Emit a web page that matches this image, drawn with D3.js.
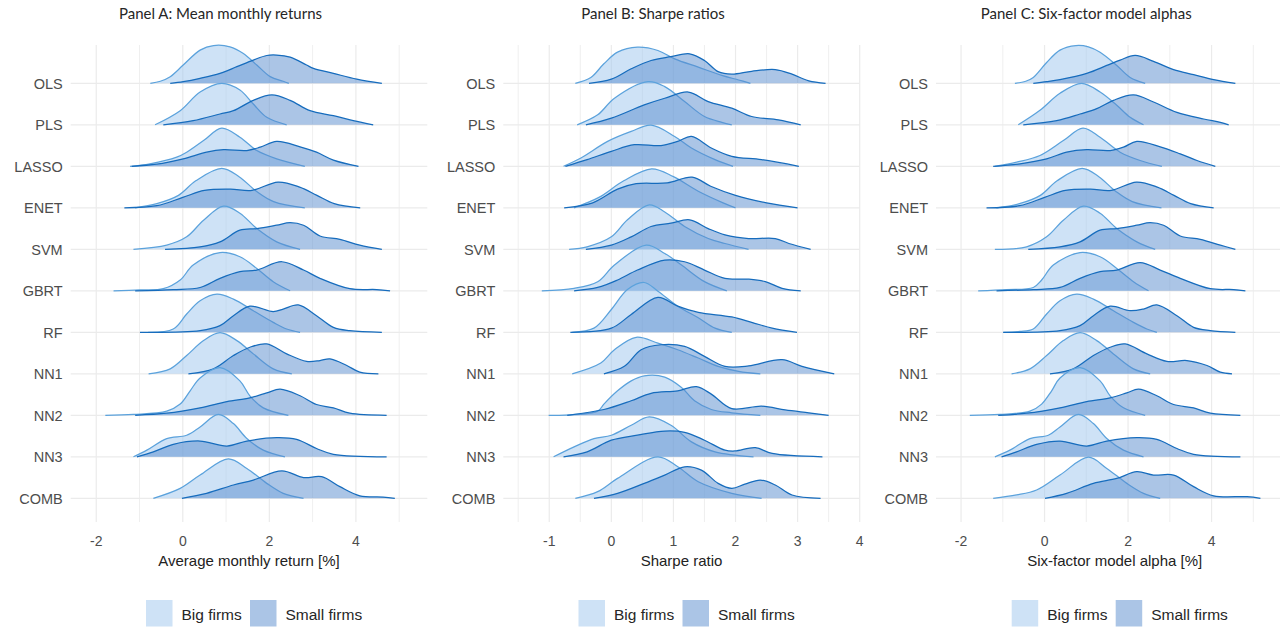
<!DOCTYPE html>
<html>
<head>
<meta charset="utf-8">
<script src="https://cdn.jsdelivr.net/npm/d3@7"></script>
<style>
  html, body { margin: 0; padding: 0; background: #ffffff; }
  svg { display: block; }
</style>
</head>
<body>
<svg id="chart" width="1280" height="628"></svg>
<script>
// Forecasting models, one ridge per model (top to bottom)
const models = ["OLS", "PLS", "LASSO", "ENET", "SVM", "GBRT", "RF", "NN1", "NN2", "NN3", "COMB"];
const groups = ["Big firms", "Small firms"];

const panelTitles = ["Panel A: Mean monthly returns", "Panel B: Sharpe ratios", "Panel C: Six-factor model alphas"];
const axisTitles = ["Average monthly return [%]", "Sharpe ratio", "Six-factor model alpha [%]"];

const ticksA = [-2, 0, 2, 4];
const minorA = [-1, 1, 3, 5];
const ticksB = [-1, 0, 1, 2, 3, 4];
const minorB = [-1.5, -0.5, 0.5, 1.5, 2.5, 3.5];
const ticksC = [-2, 0, 2, 4];
const minorC = [-1, 1, 3, 5];

const domainA = [-2.59, 5.65];
const domainB = [-1.74, 4.0];
const domainC = [-2.6, 5.96];

// Density ridges: [value, relative density] pairs for each model
const returnsBig = [
  [[-0.75,0],[-0.52,0.05],[-0.29,0.16],[0.01,0.44],[0.40,0.8],[0.71,0.91],[1.09,0.88],[1.40,0.72],[1.71,0.44],[2.02,0.16],[2.32,0.05],[2.45,0]],
  [[-0.64,0],[-0.06,0.34],[0.40,0.79],[0.90,1.0],[1.32,0.84],[1.63,0.5],[1.94,0.18],[2.40,0]],
  [[-1.22,0],[-0.76,0.06],[-0.14,0.22],[0.09,0.34],[0.48,0.62],[0.90,0.92],[1.32,0.7],[1.71,0.38],[2.17,0.18],[2.82,0]],
  [[-1.1,0],[-0.6,0.1],[-0.1,0.3],[0.3,0.65],[0.9,0.95],[1.3,0.75],[1.7,0.4],[2.1,0.15],[2.82,0]],
  [[-1.14,0],[-0.37,0.1],[0.09,0.3],[0.48,0.7],[0.94,1.04],[1.32,0.87],[1.71,0.5],[2.17,0.18],[2.71,0]],
  [[-1.6,0],[-0.99,0.02],[-0.45,0.05],[-0.06,0.26],[0.24,0.62],[0.86,0.92],[1.32,0.82],[1.71,0.54],[2.09,0.22],[2.48,0]],
  [[-0.8,0],[-0.22,0.08],[0.09,0.44],[0.4,0.76],[0.79,0.92],[1.17,0.8],[1.63,0.52],[2.09,0.24],[2.40,0.08],[2.71,0]],
  [[-0.79,0],[-0.29,0.12],[0.09,0.44],[0.48,0.8],[0.86,0.99],[1.25,0.8],[1.63,0.48],[2.09,0.12],[2.52,0]],
  [[-1.79,0],[-1.14,0.02],[-0.37,0.1],[-0.06,0.27],[0.17,0.59],[0.4,0.9],[0.86,1.15],[1.32,0.83],[1.55,0.47],[1.86,0.18],[2.44,0]],
  [[-1.14,0],[-0.83,0.16],[-0.37,0.44],[0.09,0.52],[0.4,0.72],[0.82,1.02],[1.17,0.8],[1.48,0.44],[1.86,0.16],[2.36,0]],
  [[-0.68,0],[-0.06,0.24],[0.4,0.56],[1.05,0.95],[1.48,0.72],[1.94,0.36],[2.32,0.12],[2.79,0]]
];
const returnsSmall = [
  [[-0.29,0],[0.01,0.04],[0.4,0.12],[0.86,0.24],[1.25,0.4],[1.63,0.56],[1.94,0.67],[2.17,0.68],[2.48,0.63],[2.86,0.44],[3.02,0.36],[3.48,0.24],[4.02,0.1],[4.6,0]],
  [[-0.45,0],[0.24,0.1],[0.86,0.26],[1.17,0.34],[1.63,0.59],[2.06,0.72],[2.48,0.59],[2.94,0.34],[3.48,0.22],[3.94,0.1],[4.40,0]],
  [[-1.18,0],[-0.6,0.05],[0.01,0.18],[0.55,0.34],[0.94,0.4],[1.48,0.38],[1.79,0.46],[2.17,0.6],[2.71,0.47],[3.09,0.34],[3.48,0.15],[4.06,0]],
  [[-1.35,0],[-0.6,0.05],[0,0.25],[0.5,0.42],[1.1,0.45],[1.6,0.42],[2.2,0.62],[2.7,0.5],[3.1,0.3],[3.5,0.1],[4.1,0]],
  [[-0.41,0],[0.4,0.06],[0.86,0.18],[1.32,0.46],[1.71,0.5],[2.17,0.58],[2.48,0.64],[2.79,0.58],[3.17,0.32],[3.63,0.24],[4.09,0.1],[4.6,0]],
  [[-1.1,0],[-0.22,0.03],[0.4,0.08],[0.86,0.3],[1.32,0.46],[1.71,0.5],[2.29,0.7],[2.79,0.5],[3.17,0.3],[3.86,0.05],[4.48,0.03],[4.79,0]],
  [[-0.99,0],[0.4,0.04],[0.86,0.16],[1.17,0.4],[1.55,0.63],[2.09,0.5],[2.32,0.56],[2.67,0.66],[3.09,0.4],[3.48,0.12],[3.86,0.04],[4.6,0]],
  [[0.13,0],[0.71,0.12],[1.17,0.44],[1.55,0.64],[1.94,0.72],[2.40,0.48],[2.86,0.3],[3.17,0.32],[3.40,0.36],[3.79,0.2],[4.09,0.04],[4.52,0]],
  [[-1.1,0],[-0.37,0.05],[0.4,0.18],[1.02,0.33],[1.55,0.42],[1.94,0.54],[2.25,0.63],[2.71,0.47],[3.09,0.26],[3.48,0.18],[3.86,0.05],[4.71,0]],
  [[-1.06,0],[-0.68,0.12],[-0.22,0.3],[0.4,0.38],[1.02,0.26],[1.48,0.38],[2.17,0.46],[2.63,0.42],[3.09,0.2],[3.48,0.06],[4.71,0]],
  [[-0.02,0],[0.55,0.12],[1.17,0.32],[1.63,0.44],[2.29,0.66],[2.79,0.5],[3.21,0.52],[3.63,0.28],[4.09,0.06],[4.63,0.03],[4.9,0]]
];

const sharpeBig = [
  [[-0.58,0],[-0.33,0.14],[-0.12,0.47],[0.1,0.75],[0.42,0.87],[0.75,0.79],[1.02,0.59],[1.4,0.39],[1.78,0.19],[2.05,0.08],[2.24,0]],
  [[-0.55,0],[-0.22,0.24],[0.05,0.64],[0.59,1.04],[0.86,0.92],[1.18,0.56],[1.5,0.2],[1.78,0.06],[1.94,0]],
  [[-0.77,0],[-0.49,0.2],[-0.06,0.6],[0.32,0.84],[0.64,0.99],[1.02,0.72],[1.29,0.44],[1.67,0.16],[1.96,0]],
  [[-0.6,0],[-0.2,0.25],[0.2,0.65],[0.65,0.94],[1.0,0.75],[1.4,0.4],[1.8,0.12],[2.0,0]],
  [[-0.68,0],[-0.39,0.06],[0,0.3],[0.26,0.71],[0.61,1.07],[0.86,0.9],[1.18,0.55],[1.56,0.26],[1.83,0.14],[2.21,0]],
  [[-1.12,0],[-0.6,0.06],[-0.22,0.22],[0.05,0.62],[0.56,1.1],[0.86,0.9],[1.13,0.62],[1.5,0.22],[1.86,0]],
  [[-0.63,0],[-0.28,0.1],[0,0.55],[0.26,1.03],[0.53,1.2],[0.75,0.99],[1.07,0.63],[1.4,0.35],[1.67,0.1],[1.94,0]],
  [[-0.63,0],[-0.17,0.26],[0.05,0.58],[0.4,0.88],[0.75,0.74],[1.07,0.58],[1.4,0.38],[1.72,0.18],[2.05,0.06],[2.4,0]],
  [[-1.01,0],[-0.22,0.1],[-0.12,0.27],[0.1,0.59],[0.32,0.83],[0.53,0.95],[0.86,0.92],[1.13,0.67],[1.34,0.35],[1.61,0.14],[1.94,0.06],[2.4,0]],
  [[-0.93,0],[-0.6,0.24],[-0.28,0.44],[0,0.52],[0.32,0.76],[0.61,0.96],[0.96,0.76],[1.29,0.36],[1.67,0.12],[2.29,0]],
  [[-0.58,0],[-0.22,0.16],[0.1,0.48],[0.75,1.0],[1.07,0.76],[1.4,0.4],[1.94,0.12],[2.42,0]]
];
const sharpeSmall = [
  [[-0.36,0],[0,0.1],[0.32,0.35],[0.64,0.55],[0.96,0.64],[1.26,0.71],[1.5,0.55],[1.72,0.28],[1.94,0.22],[2.26,0.29],[2.64,0.33],[2.91,0.22],[3.18,0.06],[3.45,0]],
  [[-0.41,0],[0,0.16],[0.53,0.48],[0.86,0.64],[1.24,0.79],[1.56,0.56],[1.94,0.4],[2.26,0.2],[2.69,0.12],[3.05,0]],
  [[-0.74,0],[-0.39,0.16],[0,0.36],[0.37,0.52],[0.8,0.5],[1.07,0.6],[1.29,0.72],[1.61,0.44],[1.94,0.24],[2.42,0.16],[3.02,0]],
  [[-0.76,0],[-0.3,0.12],[0.1,0.45],[0.4,0.58],[0.9,0.6],[1.3,0.74],[1.6,0.52],[2.0,0.3],[2.5,0.12],[3.0,0]],
  [[-0.41,0],[0,0.1],[0.32,0.3],[0.64,0.55],[0.96,0.63],[1.26,0.71],[1.56,0.5],[1.83,0.35],[2.21,0.26],[2.64,0.26],[2.86,0.14],[3.21,0]],
  [[-0.6,0],[-0.22,0.08],[0.1,0.26],[0.42,0.5],[0.86,0.74],[1.18,0.7],[1.5,0.5],[1.83,0.3],[2.21,0.28],[2.48,0.22],[2.75,0.06],[3.05,0]],
  [[-0.66,0],[0,0.1],[0.32,0.43],[0.75,0.84],[1.07,0.63],[1.4,0.48],[1.94,0.37],[2.26,0.24],[2.59,0.1],[2.99,0]],
  [[-0.12,0],[0.21,0.18],[0.48,0.58],[0.8,0.7],[1.18,0.66],[1.5,0.42],[1.83,0.18],[2.21,0.19],[2.75,0.34],[3.07,0.18],[3.59,0]],
  [[-0.71,0],[-0.12,0.14],[0.32,0.35],[0.64,0.53],[1.07,0.59],[1.37,0.69],[1.61,0.51],[1.94,0.16],[2.42,0.22],[2.8,0.13],[3.18,0.06],[3.5,0]],
  [[-0.77,0],[-0.39,0.12],[0,0.4],[0.42,0.52],[0.86,0.62],[1.18,0.59],[1.5,0.4],[1.83,0.16],[1.99,0.14],[2.32,0.22],[2.59,0.08],[3.4,0]],
  [[-0.28,0],[0.1,0.12],[0.53,0.36],[0.86,0.56],[1.18,0.76],[1.45,0.68],[1.72,0.36],[1.94,0.24],[2.15,0.34],[2.4,0.44],[2.64,0.32],[2.91,0.08],[3.37,0]]
];

const alphaBig = [
  [[-0.71,0],[-0.45,0.05],[-0.27,0.14],[0.05,0.5],[0.37,0.8],[0.75,0.91],[1.05,0.88],[1.33,0.75],[1.73,0.43],[2.05,0.14],[2.41,0]],
  [[-0.63,0],[-0.11,0.35],[0.37,0.76],[0.89,1.0],[1.33,0.79],[1.73,0.47],[2.05,0.18],[2.37,0]],
  [[-1.19,0],[-0.67,0.1],[-0.11,0.26],[0.45,0.62],[0.92,0.92],[1.33,0.7],[1.81,0.34],[2.29,0.14],[2.81,0]],
  [[-1.15,0],[-0.6,0.1],[-0.1,0.3],[0.3,0.65],[0.9,0.95],[1.3,0.75],[1.7,0.4],[2.1,0.15],[2.8,0]],
  [[-1.19,0],[-0.43,0.06],[0.05,0.3],[0.45,0.7],[0.93,1.04],[1.33,0.87],[1.73,0.5],[2.21,0.18],[2.65,0]],
  [[-1.59,0],[-0.91,0.03],[-0.27,0.08],[-0.07,0.26],[0.21,0.62],[0.85,0.92],[1.33,0.82],[1.73,0.54],[2.13,0.22],[2.49,0]],
  [[-0.99,0],[-0.59,0.02],[-0.27,0.08],[0.05,0.44],[0.37,0.76],[0.77,0.92],[1.17,0.8],[1.65,0.52],[2.13,0.24],[2.45,0.08],[2.69,0]],
  [[-0.79,0],[-0.35,0.12],[0.05,0.44],[0.45,0.8],[0.85,0.99],[1.25,0.8],[1.65,0.48],[2.13,0.12],[2.53,0]],
  [[-1.79,0],[-1.07,0.02],[-0.35,0.1],[-0.07,0.27],[0.17,0.59],[0.37,0.9],[0.85,1.15],[1.33,0.83],[1.57,0.47],[1.89,0.18],[2.41,0]],
  [[-1.19,0],[-0.83,0.16],[-0.35,0.44],[0.09,0.52],[0.37,0.72],[0.81,1.02],[1.17,0.8],[1.49,0.44],[1.89,0.16],[2.37,0]],
  [[-1.23,0],[-0.67,0.08],[-0.19,0.2],[0.37,0.56],[1.05,0.99],[1.49,0.72],[1.97,0.36],[2.37,0.12],[2.77,0]]
];
const alphaSmall = [
  [[-0.27,0],[0.05,0.04],[0.37,0.09],[1.01,0.24],[1.49,0.43],[1.81,0.56],[2.17,0.67],[2.61,0.53],[3.09,0.33],[3.57,0.21],[4.05,0.09],[4.57,0]],
  [[-0.51,0],[0.29,0.1],[0.85,0.26],[1.25,0.39],[1.65,0.59],[2.13,0.72],[2.61,0.55],[3.17,0.3],[3.81,0.14],[4.21,0.06],[4.41,0]],
  [[-1.23,0],[-0.59,0.06],[0.05,0.18],[0.53,0.34],[1.01,0.4],[1.57,0.38],[1.89,0.46],[2.21,0.6],[2.77,0.47],[3.25,0.3],[3.65,0.14],[4.09,0]],
  [[-1.39,0],[-0.6,0.05],[0,0.25],[0.5,0.42],[1.1,0.45],[1.6,0.42],[2.2,0.62],[2.7,0.5],[3.1,0.3],[3.5,0.1],[4.05,0]],
  [[-0.39,0],[0.37,0.06],[0.85,0.18],[1.33,0.46],[1.73,0.5],[2.21,0.58],[2.53,0.64],[2.85,0.58],[3.25,0.32],[3.73,0.24],[4.21,0.1],[4.57,0]],
  [[-1.15,0],[-0.27,0.03],[0.37,0.08],[0.85,0.3],[1.33,0.46],[1.73,0.5],[2.29,0.68],[2.77,0.5],[3.25,0.3],[3.97,0.05],[4.53,0.03],[4.81,0]],
  [[-0.99,0],[0.37,0.04],[0.85,0.16],[1.17,0.4],[1.57,0.63],[2.05,0.52],[2.37,0.56],[2.69,0.66],[3.17,0.4],[3.57,0.12],[3.97,0.04],[4.57,0]],
  [[0.13,0],[0.69,0.12],[1.17,0.44],[1.57,0.64],[1.93,0.72],[2.45,0.48],[2.93,0.3],[3.41,0.32],[3.89,0.2],[4.21,0.04],[4.49,0]],
  [[-1.11,0],[-0.43,0.05],[0.37,0.18],[1.01,0.33],[1.57,0.42],[1.97,0.54],[2.25,0.63],[2.69,0.47],[3.09,0.26],[3.57,0.18],[3.97,0.05],[4.69,0]],
  [[-1.03,0],[-0.67,0.12],[-0.19,0.3],[0.37,0.38],[1.01,0.26],[1.49,0.38],[2.21,0.46],[2.69,0.42],[3.17,0.2],[3.57,0.06],[4.69,0]],
  [[0.01,0],[0.53,0.12],[1.17,0.36],[1.73,0.48],[2.21,0.64],[2.61,0.56],[3.09,0.56],[3.57,0.28],[4.05,0.06],[4.85,0.04],[5.17,0]]
];

// ---- styling ----
const fillBig = "rgba(158,197,237,0.5)";
const fillSmall = "rgba(88,140,206,0.5)";
const lineBig = "#5ba2dc";
const lineSmall = "#166cbd";
const gridColor = "#ebebeb";
const axisFont = "'Liberation Sans', Arial, sans-serif";
const titleFont = "Lato, 'Open Sans', sans-serif";

const panels = [
  { title: panelTitles[0], axis: axisTitles[0], ticks: ticksA, minor: minorA, domain: domainA, big: returnsBig, small: returnsSmall, left: 70.7, right: 427.3 },
  { title: panelTitles[1], axis: axisTitles[1], ticks: ticksB, minor: minorB, domain: domainB, big: sharpeBig, small: sharpeSmall, left: 503.3, right: 859.7 },
  { title: panelTitles[2], axis: axisTitles[2], ticks: ticksC, minor: minorC, domain: domainC, big: alphaBig, small: alphaSmall, left: 936, right: 1293.4 }
];

const svg = d3.select("#chart");
const panelTop = 45, panelBottom = 522;

// vertical placement of the ridges
const y = d3.scalePoint().domain(models).range([83.3, 498.3]);
const rowStep = y.step();
const h = d3.scaleLinear().domain([0, 1]).range([0, rowStep]);
const ridgeCurve = d3.curveCatmullRom.alpha(0.5);

panels.forEach(p => {
  const x = d3.scaleLinear().domain(p.domain).range([p.left, p.right]);
  const g = svg.append("g");
  const mid = (p.left + p.right) / 2;

  // grid
  g.append("g").selectAll("line.minor").data(p.minor).join("line")
    .attr("x1", d => x(d)).attr("x2", d => x(d))
    .attr("y1", panelTop).attr("y2", panelBottom)
    .attr("stroke", gridColor).attr("stroke-width", 0.8);
  g.append("g").selectAll("line.major").data(p.ticks).join("line")
    .attr("x1", d => x(d)).attr("x2", d => x(d))
    .attr("y1", panelTop).attr("y2", panelBottom)
    .attr("stroke", gridColor).attr("stroke-width", 1.2);
  g.append("g").selectAll("line.row").data(models).join("line")
    .attr("x1", p.left).attr("x2", p.right)
    .attr("y1", d => y(d)).attr("y2", d => y(d))
    .attr("stroke", gridColor).attr("stroke-width", 1.2);

  // ridges, top row first so lower rows overlap upper ones
  models.forEach((m, i) => {
    const base = y(m);
    const top = d => Math.min(base, base - h(d[1]));
    const area = d3.area().curve(ridgeCurve)
      .x(d => x(d[0])).y0(base).y1(top);
    const line = d3.line().curve(ridgeCurve)
      .x(d => x(d[0])).y(top);
    [[p.big[i], fillBig, lineBig], [p.small[i], fillSmall, lineSmall]].forEach(([pts, fill, stroke]) => {
      g.append("path").attr("d", area(pts)).attr("fill", fill);
      g.append("path").attr("d", line(pts)).attr("fill", "none")
        .attr("stroke", stroke).attr("stroke-width", 1.25).attr("stroke-linejoin", "round");
    });
  });

  // row labels
  g.append("g").selectAll("text").data(models).join("text")
    .attr("x", p.left - 8).attr("y", d => y(d)).attr("dy", "0.36em")
    .attr("text-anchor", "end")
    .style("font-family", axisFont).style("font-size", "14.5px").attr("fill", "#4d4d4d")
    .text(d => d);

  // x tick labels
  g.append("g").selectAll("text").data(p.ticks).join("text")
    .attr("x", d => x(d)).attr("y", 546)
    .attr("text-anchor", "middle")
    .style("font-family", axisFont).style("font-size", "14px").attr("fill", "#4d4d4d")
    .text(d => d3.format("d")(d).replace("−", "-"));

  // axis title
  g.append("text").attr("x", mid).attr("y", 566)
    .attr("text-anchor", "middle")
    .style("font-family", axisFont).style("font-size", "15px").attr("fill", "#222")
    .text(p.axis);

  // panel title
  g.append("text").attr("x", (p.left - 57 + p.right) / 2).attr("y", 19)
    .attr("text-anchor", "middle")
    .style("font-family", titleFont).style("font-size", "15px").attr("fill", "#262626")
    .text(p.title);

  // legend
  const legend = g.append("g");
  const keyX = [mid - 103, mid + 1];
  const keyFill = [fillBig, fillSmall];
  groups.forEach((name, k) => {
    legend.append("rect").attr("x", keyX[k]).attr("y", 600).attr("width", 26.5).attr("height", 26.5)
      .attr("fill", keyFill[k]);
    legend.append("text").attr("x", keyX[k] + 35.5).attr("y", 619.5)
      .style("font-family", axisFont).style("font-size", "15.5px").attr("fill", "#262626")
      .text(name);
  });
});
</script>
</body>
</html>
